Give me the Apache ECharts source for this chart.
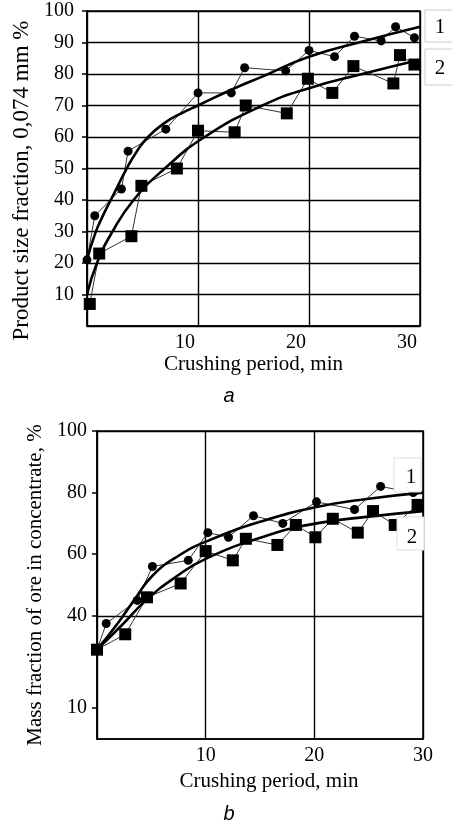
<!DOCTYPE html>
<html>
<head>
<meta charset="utf-8">
<script src="https://cdn.jsdelivr.net/npm/echarts@6/dist/echarts.min.js"></script>
<style>
  html, body { margin: 0; padding: 0; background: #fff; }
  #chart { width: 452px; height: 825px; }
</style>
</head>
<body>
<div id="chart"></div>
<script>
// (a) product size fraction 0,074 mm, measured points
const timeA1 = [0, 0.7, 3.1, 3.7, 7.1, 10, 13, 14.2, 17.9, 20, 22.3, 24.1, 26.5, 27.8, 29.5];
const fracA1 = [21, 35, 43.5, 55.5, 62.5, 74, 74, 82, 81, 87.5, 85.5, 92, 90.5, 95, 91.5];
const timeA2 = [0.25, 1.1, 4.0, 4.9, 8.1, 10, 13.3, 14.3, 18, 19.9, 22.1, 24, 27.6, 28.2, 29.5];
const fracA2 = [7, 23, 28.5, 44.5, 50, 62, 61.5, 70, 67.5, 78.5, 74, 82.5, 77, 86, 83];
// (a) fitted curves
const fitTimeA1 = [0, 0.75, 1.5, 2.5, 3.5, 4.5, 5.5, 7, 8.5, 10, 13, 16, 20, 25, 30];
const fitA1 = [21, 29.5, 35.5, 42.5, 49.5, 55.5, 60, 64.5, 67.5, 70, 75, 79.5, 85.5, 90.5, 95];
const fitTimeA2 = [0, 0.9, 2.3, 4.2, 7, 10.6, 15.8, 20, 24.8, 30];
const fitA2 = [10, 20, 30, 40, 50, 60, 70, 75.5, 80, 84.5];

// (b) mass fraction of ore in concentrate, measured points
const timeB1 = [0, 0.85, 3.7, 5.1, 8.4, 10.2, 12.1, 14.4, 17.1, 20.2, 23.7, 26.1, 29.1];
const fracB1 = [29, 37.5, 45, 56, 58, 67, 65.5, 72.5, 70, 77, 74.5, 82, 80];
const timeB2 = [0, 2.6, 4.6, 7.7, 10, 12.5, 13.7, 16.6, 18.3, 20.1, 21.7, 24, 25.4, 27.4, 29.5];
const fracB2 = [29, 34, 46, 50.5, 61, 58, 65, 63, 69.5, 65.5, 71.5, 67, 74, 69.5, 76];
// (b) fitted curves
const fitTimeB1 = [0, 2, 3.5, 5.1, 7.5, 10.3, 15, 20.2, 25, 30];
const fitB1 = [29, 38, 45.5, 53, 59.5, 64.5, 70.5, 75.3, 78, 80];
const fitTimeB2 = [0, 2.3, 4.5, 7.2, 10, 15.6, 20.2, 25, 30];
const fitB2 = [29, 37, 45, 52.5, 58.5, 66, 70, 72.2, 74];

const yTicksB = [10, 40, 60, 80, 100];

const pairs = (xs, ys) => xs.map((x, i) => [x, ys[i]]);

const serif = "'Liberation Serif', 'DejaVu Serif', serif";
const black = "#000";

const chart = echarts.init(document.getElementById("chart"));

const labelStyle = { color: black, fontFamily: serif, fontSize: 20 };
const nameStyle = { color: black, fontFamily: serif, fontSize: 21 };

// gridlines of (b) only at 10, 40, 60, 80, 100
const gridColorsB = [];
for (let v = 0; v <= 100; v += 10) {
  gridColorsB.push(yTicksB.includes(v) ? black : "rgba(0,0,0,0)");
}

const pointSeries = (xi, data, symbol, size) => ({
  type: "line",
  xAxisIndex: xi,
  yAxisIndex: xi,
  data: data,
  symbol: symbol,
  symbolSize: size,
  showSymbol: true,
  lineStyle: { width: 1, color: "#333" },
  itemStyle: { color: black },
  z: 3,
});

const fitSeries = (xi, data) => ({
  type: "line",
  xAxisIndex: xi,
  yAxisIndex: xi,
  data: data,
  smooth: true,
  showSymbol: false,
  lineStyle: { width: 2.6, color: black },
  z: 4,
});

const option = {
  backgroundColor: "#fff",
  animation: false,
  grid: [
    { left: 87, top: 11, width: 333, height: 315, show: true, borderColor: black, borderWidth: 1.5 },
    { left: 97, top: 431, width: 326, height: 308, show: true, borderColor: black, borderWidth: 1.5 },
  ],
  xAxis: [
    {
      gridIndex: 0,
      type: "value",
      min: 0,
      max: 30,
      interval: 10,
      name: "Crushing period, min",
      nameLocation: "middle",
      nameGap: 27,
      nameTextStyle: nameStyle,
      axisLine: { lineStyle: { color: black, width: 1.5 } },
      axisTick: { show: false },
      axisLabel: Object.assign({ showMinLabel: false, margin: 7, padding: [0, 26, 0, 0] }, labelStyle),
      splitLine: { lineStyle: { color: black, width: 1.4 } },
    },
    {
      gridIndex: 1,
      type: "value",
      min: 0,
      max: 30,
      interval: 10,
      name: "Crushing period, min",
      nameLocation: "middle",
      nameGap: 32,
      nameTextStyle: Object.assign({ padding: [0, 0, 0, 18] }, nameStyle),
      axisLine: { lineStyle: { color: black, width: 1.5 } },
      axisTick: { show: false },
      axisLabel: Object.assign({ showMinLabel: false, margin: 7 }, labelStyle),
      splitLine: { lineStyle: { color: black, width: 1.4 } },
    },
  ],
  yAxis: [
    {
      gridIndex: 0,
      type: "value",
      min: 0,
      max: 100,
      interval: 10,
      name: "Product size fraction, 0,074 mm %",
      nameLocation: "middle",
      nameGap: 43,
      nameTextStyle: Object.assign({ padding: [0, 24, 0, 0] }, nameStyle, { fontSize: 23 }),
      axisLine: { lineStyle: { color: black, width: 1.5 } },
      axisTick: { show: true, length: 5, lineStyle: { color: black, width: 1.5 } },
      axisLabel: Object.assign({ showMinLabel: false, margin: 13 }, labelStyle),
      splitLine: { lineStyle: { color: black, width: 1.4 } },
    },
    {
      gridIndex: 1,
      type: "value",
      min: 0,
      max: 100,
      interval: 10,
      name: "Mass fraction of ore in concentrate, %",
      nameLocation: "middle",
      nameGap: 49,
      nameTextStyle: nameStyle,
      axisLine: { lineStyle: { color: black, width: 1.5 } },
      axisTick: { show: true, length: 5, customValues: yTicksB, lineStyle: { color: black, width: 1.5 } },
      axisLabel: Object.assign({ customValues: yTicksB, margin: 10 }, labelStyle),
      splitLine: { lineStyle: { color: gridColorsB, width: 1.4 } },
    },
  ],
  series: [
    pointSeries(0, pairs(timeA1, fracA1), "circle", 9),
    pointSeries(0, pairs(timeA2, fracA2), "rect", 12),
    fitSeries(0, pairs(fitTimeA1, fitA1)),
    fitSeries(0, pairs(fitTimeA2, fitA2)),
    pointSeries(1, pairs(timeB1, fracB1), "circle", 9),
    pointSeries(1, pairs(timeB2, fracB2), "rect", 12),
    fitSeries(1, pairs(fitTimeB1, fitB1)),
    fitSeries(1, pairs(fitTimeB2, fitB2)),
  ],
  graphic: [
    // curve number boxes, (a)
    { type: "rect", shape: { x: 425, y: 10, width: 30, height: 32 }, style: { fill: "#fff", stroke: "#ccc", lineWidth: 1 }, z: 10 },
    { type: "text", x: 440, y: 27, style: { text: "1", font: "21px " + serif, fill: black, align: "center", verticalAlign: "middle" }, z: 11 },
    { type: "rect", shape: { x: 425, y: 49, width: 30, height: 36 }, style: { fill: "#fff", stroke: "#ccc", lineWidth: 1 }, z: 10 },
    { type: "text", x: 440, y: 68, style: { text: "2", font: "21px " + serif, fill: black, align: "center", verticalAlign: "middle" }, z: 11 },
    // curve number boxes, (b)
    { type: "rect", shape: { x: 394, y: 458, width: 27, height: 34 }, style: { fill: "#fff", stroke: "#ddd", lineWidth: 1 }, z: 10 },
    { type: "text", x: 411, y: 477, style: { text: "1", font: "21px " + serif, fill: black, align: "center", verticalAlign: "middle" }, z: 11 },
    { type: "rect", shape: { x: 397, y: 517, width: 27, height: 33 }, style: { fill: "#fff", stroke: "#ddd", lineWidth: 1 }, z: 10 },
    { type: "text", x: 412, y: 537, style: { text: "2", font: "21px " + serif, fill: black, align: "center", verticalAlign: "middle" }, z: 11 },
    // panel captions
    { type: "text", x: 229, y: 396, style: { text: "a", font: "italic 20px 'Liberation Sans', Arial, sans-serif", fill: black, align: "center", verticalAlign: "middle" } },
    { type: "text", x: 229, y: 814, style: { text: "b", font: "italic 20px 'Liberation Sans', Arial, sans-serif", fill: black, align: "center", verticalAlign: "middle" } },
  ],
};

chart.setOption(option);
</script>
</body>
</html>
